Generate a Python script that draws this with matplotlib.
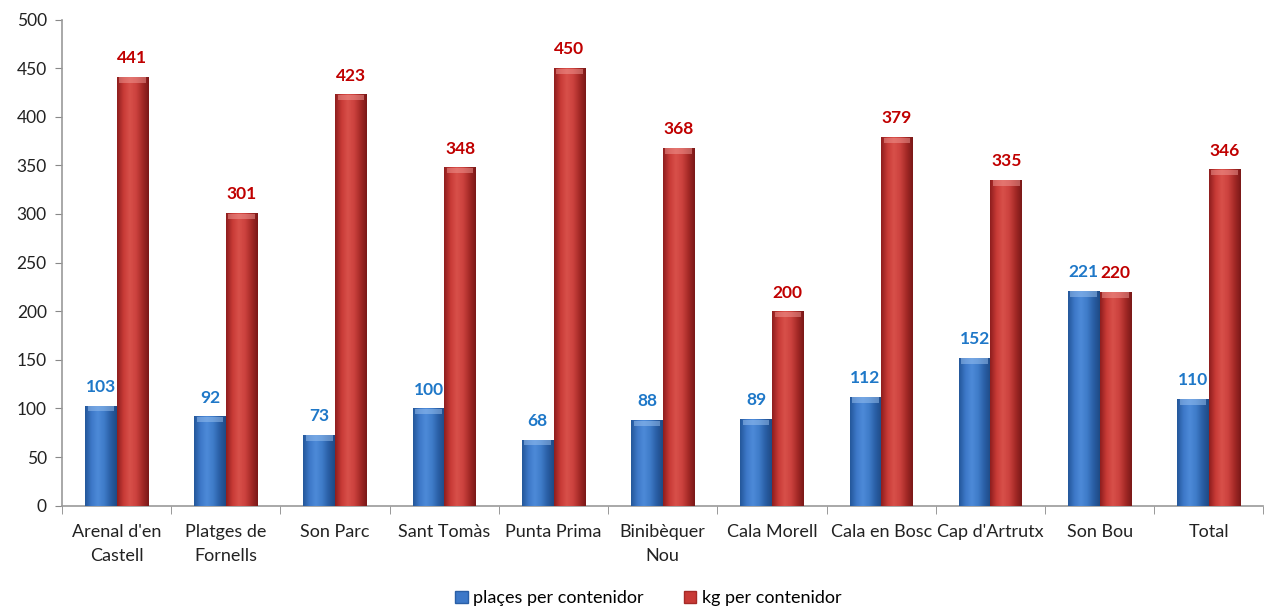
import numpy as np
import matplotlib.pyplot as plt
from matplotlib.patches import Patch
from matplotlib.colors import LinearSegmentedColormap

categories = ["Arenal d'en\nCastell", "Platges de\nFornells", "Son Parc", "Sant Tomàs",
              "Punta Prima", "Binibèquer\nNou", "Cala Morell", "Cala en Bosc",
              "Cap d'Artrutx", "Son Bou", "Total"]
places = [103, 92, 73, 100, 68, 88, 89, 112, 152, 221, 110]
kg = [441, 301, 423, 348, 450, 368, 200, 379, 335, 220, 346]
series_names = ["plaçes per contenidor", "kg per contenidor"]

plt.rcParams['font.family'] = ['Lato', 'DejaVu Sans']

fig = plt.figure(figsize=(12.66, 6.1), dpi=100)
ax = fig.add_axes([0.049, 0.171, 0.949, 0.797])

x = np.arange(len(categories))
w = 0.29
ax.set_xlim(-0.5, len(categories) - 0.5)
ax.set_ylim(0, 500)

blue_cmap = LinearSegmentedColormap.from_list(
    "b", ["#24579a", "#3d78c8", "#4d8ad8", "#3f7cc9", "#2a5fa6", "#1e4a85"])
red_cmap = LinearSegmentedColormap.from_list(
    "r", ["#8e1e1e", "#c83a36", "#d8504a", "#cc423e", "#a52a27", "#7a1818"])
grad = np.linspace(0, 1, 64).reshape(1, -1)


def shaded_bars(xs, vals, cmap, base, top_color):
    bars = ax.bar(xs, vals, width=w, color=base, edgecolor="none", zorder=2)
    for b in bars:
        x0, y0 = b.get_x(), b.get_y()
        bw, bh = b.get_width(), b.get_height()
        im = ax.imshow(grad, cmap=cmap, aspect="auto",
                       extent=[x0, x0 + bw, y0, y0 + bh], zorder=3,
                       interpolation="bicubic")
        im.set_clip_path(b)
        # small bevel highlight at the top of each bar
        ax.fill_between([x0 + bw * 0.08, x0 + bw * 0.92],
                        y0 + bh - 6, y0 + bh - 0.5,
                        color=top_color, alpha=0.5, lw=0, zorder=4)
    return bars


shaded_bars(x - w / 2, places, blue_cmap, "#3d78c8", "#9cc3f0")
shaded_bars(x + w / 2, kg, red_cmap, "#c83a36", "#f09a95")

for xi, v in zip(x - w / 2, places):
    ax.text(xi, v + 11, str(v), ha="center", va="bottom", color="#1f78c8",
            fontsize=12.5, fontweight="bold", zorder=5)
for xi, v in zip(x + w / 2, kg):
    ax.text(xi, v + 11, str(v), ha="center", va="bottom", color="#c00000",
            fontsize=12.5, fontweight="bold", zorder=5)

ax.set_yticks(np.arange(0, 501, 50))
ax.set_xticks(x)
ax.set_xticklabels(categories, fontsize=13, color="#222222", linespacing=1.6)
ax.tick_params(axis="x", length=0, pad=13)
ax.tick_params(axis="y", labelsize=12.5, colors="#888888", length=5,
               direction="out", labelcolor="#222222", pad=6)
ax.set_xticks(np.arange(-0.5, len(categories), 1.0), minor=True)
ax.tick_params(axis="x", which="minor", length=6, color="#888888",
               direction="out")

for s in ["top", "right"]:
    ax.spines[s].set_visible(False)
for s in ["left", "bottom"]:
    ax.spines[s].set_color("#999999")
    ax.spines[s].set_linewidth(1.2)

handles = [Patch(facecolor="#3d78c8", edgecolor="#2a5fa6"),
           Patch(facecolor="#c83a36", edgecolor="#a52a27")]
fig.legend(handles, series_names, loc="center", bbox_to_anchor=(0.512, 0.019),
           ncol=2, frameon=False, fontsize=13, handlelength=0.7,
           handleheight=0.7, handletextpad=0.3, columnspacing=2.2)

fig.savefig("out.png", dpi=100)
